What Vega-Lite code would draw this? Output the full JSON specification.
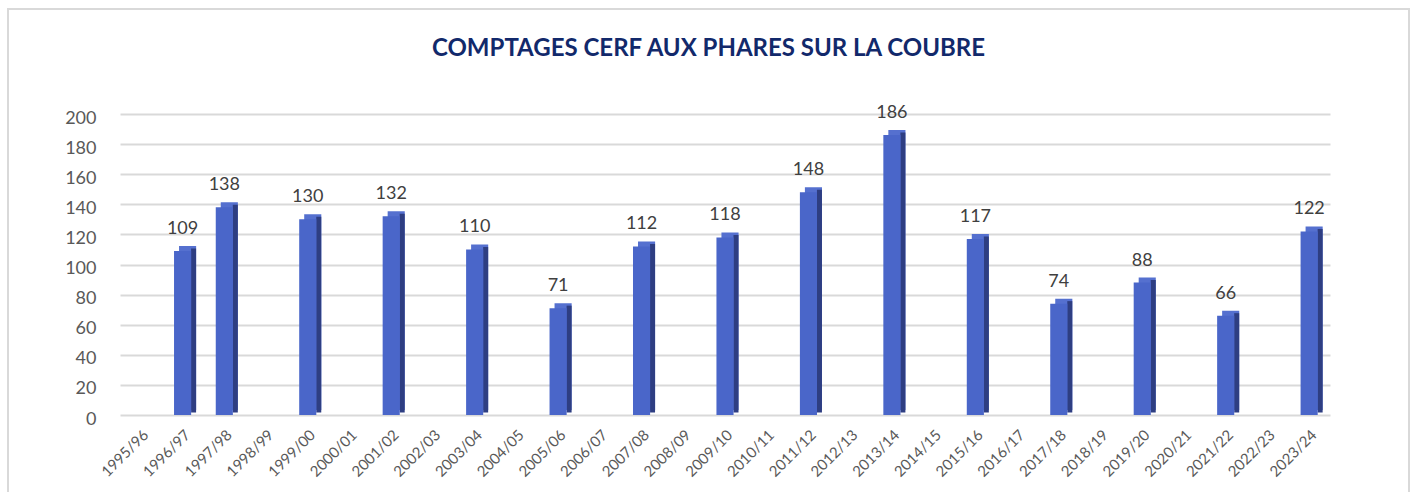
{
  "$schema": "https://vega.github.io/schema/vega-lite/v6.json",
  "width": 1401,
  "height": 492,
  "autosize": {"type": "none"},
  "padding": {"left": 8, "top": 9, "right": 7, "bottom": 0},
  "background": "white",
  "config": {"view": {"stroke": "#D9D9D9", "strokeWidth": 2}, "font": "Lato"},
  "title": {
    "text": "COMPTAGES CERF AUX PHARES SUR LA COUBRE",
    "font": "Lato",
    "fontSize": 24,
    "fontWeight": "bold",
    "color": "#12296B",
    "anchor": "middle",
    "baseline": "alphabetic",
    "offset": -71
  },
  "data": {
    "values": [
      {"saison": "1996/97", "cerfs": 109},
      {"saison": "1997/98", "cerfs": 138},
      {"saison": "1999/00", "cerfs": 130},
      {"saison": "2001/02", "cerfs": 132},
      {"saison": "2003/04", "cerfs": 110},
      {"saison": "2005/06", "cerfs": 71},
      {"saison": "2007/08", "cerfs": 112},
      {"saison": "2009/10", "cerfs": 118},
      {"saison": "2011/12", "cerfs": 148},
      {"saison": "2013/14", "cerfs": 186},
      {"saison": "2015/16", "cerfs": 117},
      {"saison": "2017/18", "cerfs": 74},
      {"saison": "2019/20", "cerfs": 88},
      {"saison": "2021/22", "cerfs": 66},
      {"saison": "2023/24", "cerfs": 122}
    ]
  },
  "encoding": {
    "x": {
      "field": "saison",
      "type": "nominal",
      "sort": null,
      "scale": {
        "domain": ["1995/96","1996/97","1997/98","1998/99","1999/00","2000/01","2001/02","2002/03","2003/04","2004/05","2005/06","2006/07","2007/08","2008/09","2009/10","2010/11","2011/12","2012/13","2013/14","2014/15","2015/16","2016/17","2017/18","2018/19","2019/20","2020/21","2021/22","2022/23","2023/24"],
        "range": [112, 1322],
        "paddingInner": 0.59,
        "paddingOuter": 0.295
      },
      "axis": {
        "title": null,
        "orient": "bottom",
        "offset": -86,
        "labelAngle": -45,
        "labelFontSize": 15,
        "labelColor": "#595959",
        "labelPadding": 12,
        "ticks": false,
        "domain": false,
        "grid": false
      }
    },
    "y": {
      "field": "cerfs",
      "type": "quantitative",
      "scale": {"domain": [0, 200], "range": [406, 105], "nice": false},
      "axis": {
        "title": null,
        "offset": -112,
        "values": [0, 20, 40, 60, 80, 100, 120, 140, 160, 180, 200],
        "ticks": false,
        "domain": false,
        "labelPadding": 24,
        "labelFontSize": 18,
        "labelColor": "#595959",
        "labelOffset": 4,
        "grid": true,
        "gridColor": "#D9D9D9",
        "gridWidth": 2
      }
    }
  },
  "layer": [
    {"mark": {"type": "bar", "color": "#5570CF", "xOffset": 5, "yOffset": -5, "y2Offset": -5}},
    {"mark": {"type": "bar", "color": "#2E3E82", "width": 5, "xOffset": 11, "yOffset": -2.5, "y2Offset": -2.5}},
    {"mark": {"type": "bar", "color": "#4A66C9"}},
    {
      "mark": {"type": "text", "dy": -17, "baseline": "alphabetic", "fontSize": 18, "color": "#404040", "font": "Lato"},
      "encoding": {"text": {"field": "cerfs", "type": "quantitative"}}
    }
  ]
}
